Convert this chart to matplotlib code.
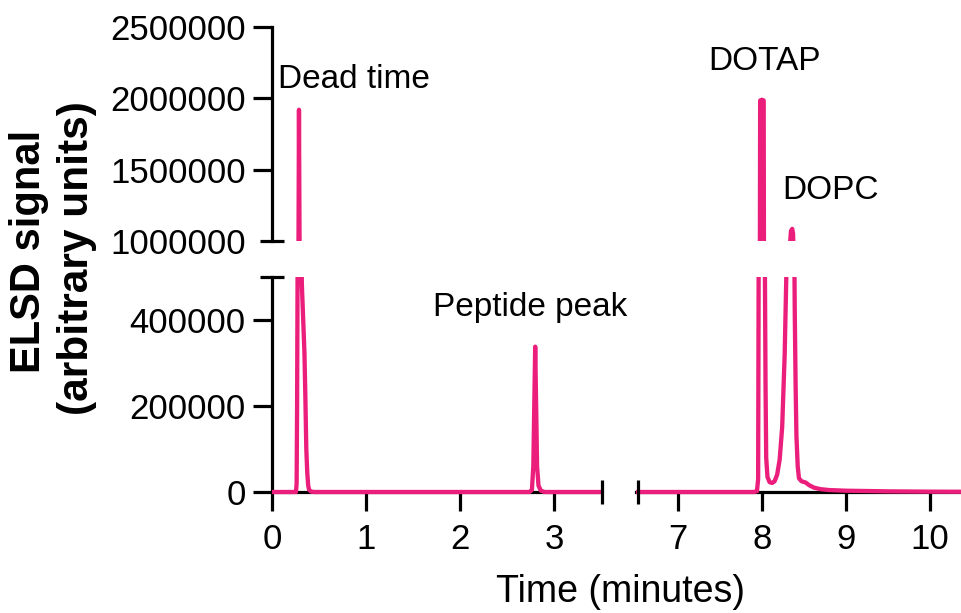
import matplotlib
matplotlib.use('Agg')
import matplotlib.pyplot as plt
from matplotlib.lines import Line2D

plt.rcParams['font.family'] = ['Liberation Sans', 'DejaVu Sans']

PINK = '#EB1E7C'

# ---- data ----
t_early = [0.00, 0.20, 0.255, 0.262, 0.267, 0.272, 0.282, 0.287, 0.293, 0.302,
           0.318, 0.345, 0.355, 0.365, 0.375, 0.385, 0.395, 0.415, 0.45,
           2.74, 2.765, 2.78, 2.79, 2.80, 2.81, 2.82, 2.835, 2.86, 2.90, 3.50]
s_early = [0, 0, 0, 20000, 200000, 500000, 1000000, 1920000, 1000000, 700000,
           480000, 325000, 220000, 100000, 45000, 15000, 5000, 1000, 0,
           0, 5000, 60000, 200000, 338000, 200000, 60000, 15000, 3000, 0, 0]

t_late = [6.50, 7.90, 7.94, 7.954, 7.960, 7.975, 7.978, 8.00, 8.02, 8.023, 8.035,
          8.042, 8.05, 8.065, 8.09, 8.12, 8.15, 8.18, 8.21, 8.24, 8.27, 8.30, 8.33,
          8.345, 8.36, 8.37, 8.378, 8.385, 8.39, 8.40, 8.41, 8.425, 8.44, 8.47,
          8.52, 8.56, 8.62, 8.70, 8.80, 9.00, 9.50, 10.00, 10.50]
s_late = [0, 0, 2000, 30000, 500000, 1000000, 1985000, 1990000, 1985000, 1000000, 500000,
          250000, 80000, 35000, 23000, 21000, 25000, 40000, 75000, 150000, 320000, 600000, 950000,
          1070000, 1085000, 1050000, 800000, 550000, 420000, 250000, 130000, 60000, 32000, 25000,
          22000, 16000, 10000, 6500, 4500, 3000, 1500, 800, 500]

xticks_left = [0, 1, 2, 3]
xticks_right = [7, 8, 9, 10]
yticks_low = [0, 200000, 400000]
yticks_high = [1000000, 1500000, 2000000, 2500000]

annotations = [("Dead time", 'UL', 0.87, 2130000),
               ("Peptide peak", 'LL', 2.745, 430000),
               ("DOTAP", 'UR', 8.024, 2260000),
               ("DOPC", 'UR', 8.82, 1352000)]

# ---- layout ----
W, H = 962, 613
fig = plt.figure(figsize=(W / 100, H / 100), dpi=100)

def add_ax(x0, x1, ytop, ybot):
    return fig.add_axes([x0 / W, 1 - ybot / H, (x1 - x0) / W, (ybot - ytop) / H])

PXL = 94.0      # px per minute, left
PXR = 84.0      # px per minute, right
low_ppu = 215.0 / 500000
low_pad = 8000

xL0 = 272; xL1 = xL0 + 3.5 * PXL
xR0 = 678 - 0.5 * PXR; xR1 = xR0 + 4.0 * PXR
y0px = 492
ax_LL = add_ax(xL0, xL1, y0px - 500000 * low_ppu, y0px + low_pad * low_ppu)
ax_LR = add_ax(xR0, xR1, y0px - 500000 * low_ppu, y0px + low_pad * low_ppu)
ax_UL = add_ax(xL0, xL1, 27, 241)
ax_UR = add_ax(xR0, xR1, 27, 241)

LW_SP = 2.3
TICK_FS = 25
LW_TR = 3.1
for ax in (ax_LL, ax_LR, ax_UL, ax_UR):
    ax.patch.set_visible(False)
    for s in ax.spines.values():
        s.set_linewidth(LW_SP)
        s.set_visible(False)
    ax.tick_params(axis='both', direction='out', length=14, width=LW_SP,
                   labelsize=TICK_FS, color='black')
    ax.tick_params(axis='y', pad=5)
    ax.tick_params(axis='x', pad=8.5)

for ax in (ax_LL, ax_UL):
    ax.plot(t_early, s_early, color=PINK, lw=LW_TR, zorder=3, solid_joinstyle='round',
            solid_capstyle='round')
    ax.set_xlim(0, 3.5)
for ax in (ax_LR, ax_UR):
    ax.plot(t_late, s_late, color=PINK, lw=LW_TR, zorder=3, solid_joinstyle='round',
            solid_capstyle='round')
    ax.set_xlim(6.5, 10.5)

for ax in (ax_LL, ax_LR):
    ax.set_ylim(-low_pad, 500000)
    ax.spines['bottom'].set_visible(True)
    ax.spines['bottom'].set_position(('data', 0))
for ax in (ax_UL, ax_UR):
    ax.set_ylim(1000000, 2500000)

# lower left
ax_LL.spines['left'].set_visible(True)
ax_LL.spines['left'].set_bounds(0, 500000)
ax_LL.spines['bottom'].set_bounds(0, 3.5)
ax_LL.set_xticks(xticks_left)
ax_LL.set_xticklabels([str(v) for v in xticks_left])
ax_LL.set_yticks(yticks_low)
ax_LL.set_yticklabels([str(v) for v in yticks_low])

# lower right
ax_LR.spines['bottom'].set_bounds(6.5, 10.5)
ax_LR.set_xticks(xticks_right)
ax_LR.set_xticklabels([str(v) for v in xticks_right])
ax_LR.tick_params(axis='y', left=False, labelleft=False)

# upper left
ax_UL.spines['left'].set_visible(True)
ax_UL.set_yticks(yticks_high)
ax_UL.set_yticklabels([str(v) for v in yticks_high])
ax_UL.yaxis.get_major_ticks()[0].tick1line.set_visible(False)
ax_UL.tick_params(axis='x', bottom=False, labelbottom=False)

# upper right
ax_UR.tick_params(axis='both', left=False, bottom=False, labelleft=False, labelbottom=False)

for ax in (ax_LL, ax_LR, ax_UL, ax_UR):
    for s in ax.spines.values():
        s.set_zorder(2.5)

# break caps (figure pixel coordinates)
def fig_line(xs, ys):
    fig.add_artist(Line2D([x / W for x in xs], [1 - y / H for y in ys],
                          transform=fig.transFigure, color='black', lw=LW_SP,
                          solid_capstyle='butt'))

cap = 12
fig_line([xL0 - cap, xL0 + cap], [241, 241])
y_low_top = y0px - 500000 * low_ppu
fig_line([xL0 - cap, xL0 + cap], [y_low_top, y_low_top])
fig_line([xL1 + 1, xL1 + 1], [y0px - cap, y0px + cap])
fig_line([xR0 + 2, xR0 + 2], [y0px - cap, y0px + cap])

# annotations
axmap = {'UL': ax_UL, 'LL': ax_LL, 'UR': ax_UR, 'LR': ax_LR}
for txt, key, x, y in annotations:
    axmap[key].text(x, y, txt, ha='center', va='center', fontsize=24, clip_on=False)

# axis titles
fig.text(621 / W, 1 - 592 / H, "Time (minutes)", ha='center', va='center', fontsize=27)
fig.text(40 / W, 1 - 251 / H, "ELSD signal", rotation=90, rotation_mode='anchor',
         ha='center', va='baseline', fontsize=30, fontweight='bold')
fig.text(88 / W, 1 - 258 / H, "(arbitrary units)", rotation=90, rotation_mode='anchor',
         ha='center', va='baseline', fontsize=30.5, fontweight='bold')

fig.savefig('out.png', dpi=100)
